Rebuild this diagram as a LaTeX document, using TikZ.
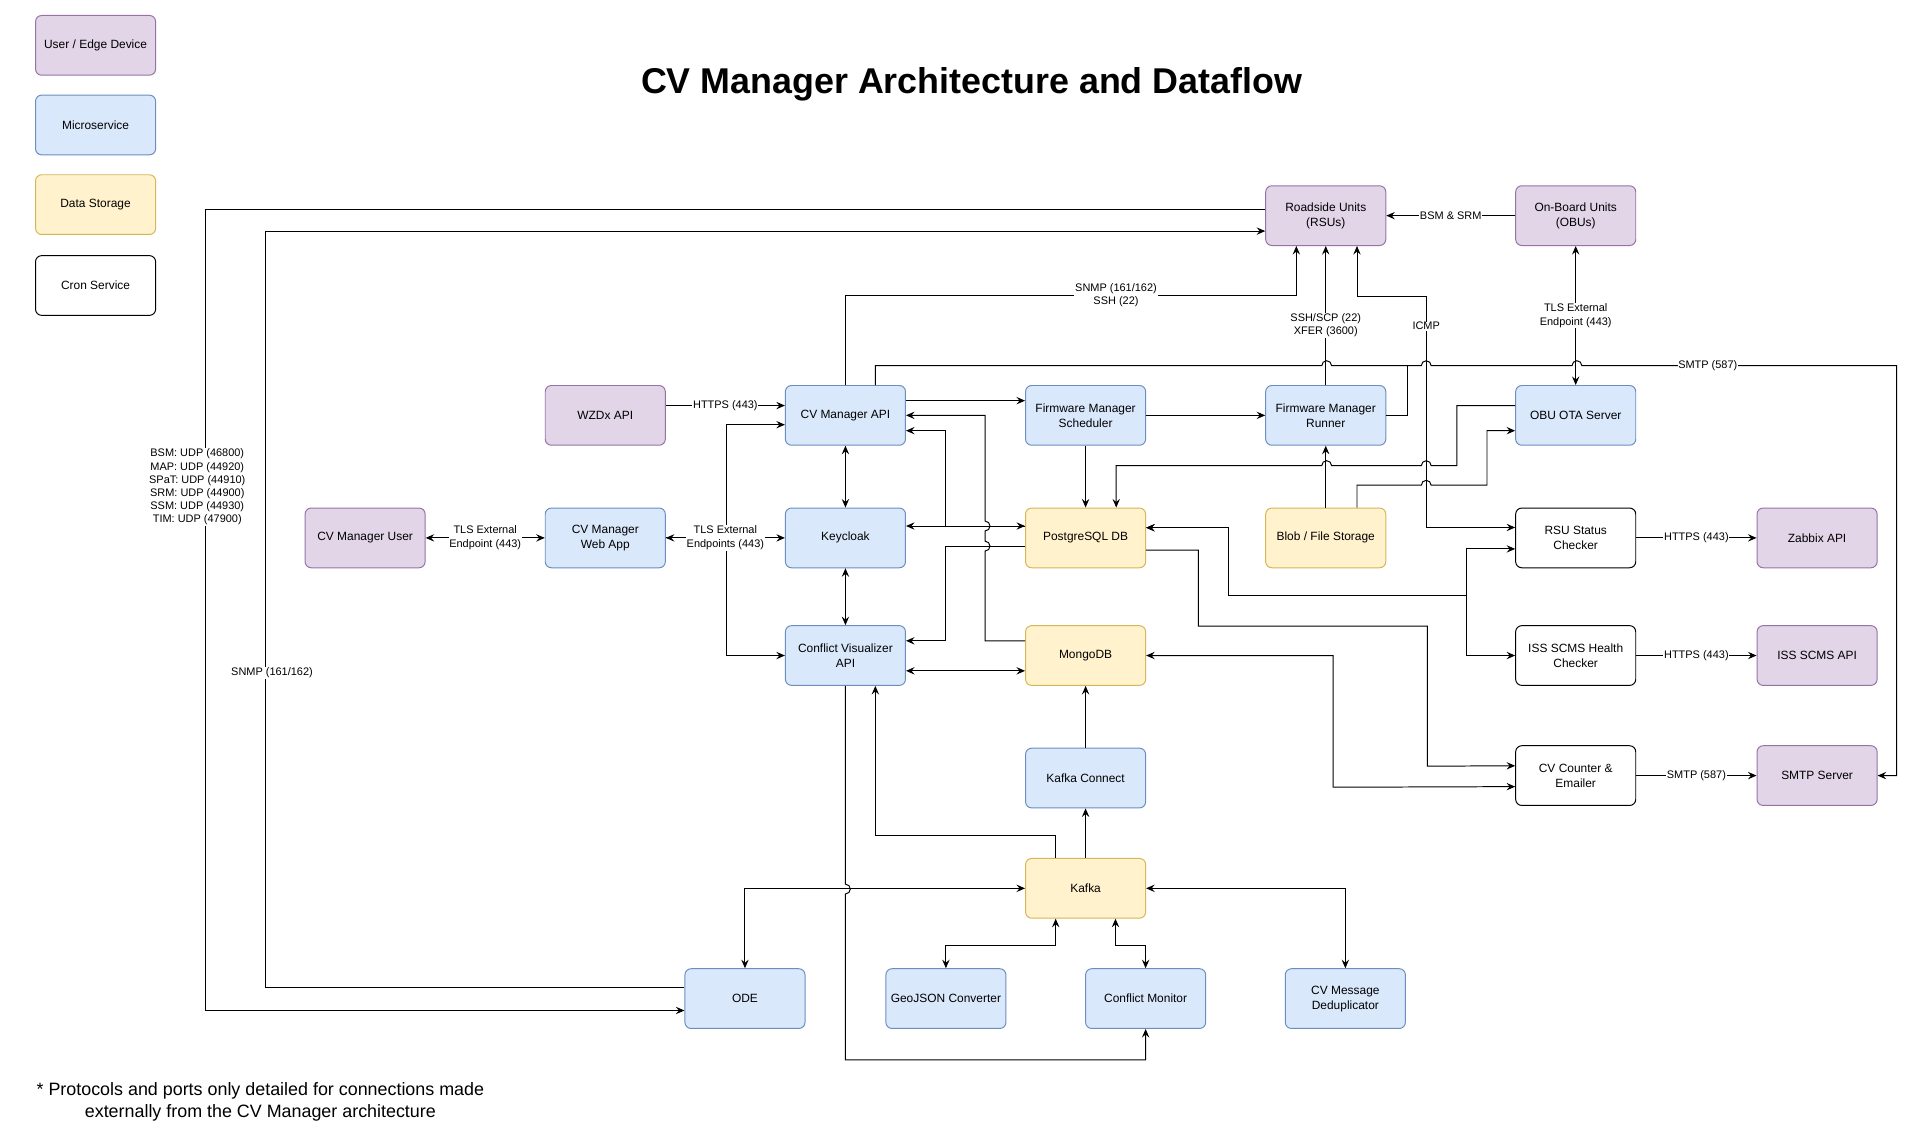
\documentclass[tikz,border=0pt]{standalone}
\usepackage{fontspec}
\setmainfont{Liberation Sans}
\usetikzlibrary{arrows.meta}

\definecolor{usrfill}{HTML}{E1D5E7}
\definecolor{usrline}{HTML}{9673A6}
\definecolor{svcfill}{HTML}{DAE8FC}
\definecolor{svcline}{HTML}{6C8EBF}
\definecolor{dbfill}{HTML}{FFF2CC}
\definecolor{dbline}{HTML}{D6B656}

\begin{document}
\begin{tikzpicture}
	[x=1pt,y=-1pt,
	box/.style={rectangle,rounded corners=5pt,minimum width=98pt,minimum height=48.75pt,inner sep=1pt,align=center,line width=0.8pt,font=\fontsize{9.75}{12.2}\selectfont},
	usr/.style={box,draw=usrline,fill=usrfill},
	svc/.style={box,draw=svcline,fill=svcfill},
	store/.style={box,draw=dbline,fill=dbfill},
	cron/.style={box,draw=black,fill=white},
	lbl/.style={fill=white,inner sep=0.6pt,align=center,font=\fontsize{8.94}{11.2}\selectfont},
	edge/.style={line width=0.8pt,>={Stealth[length=7pt,width=6pt,inset=2.5pt]}}]
	\useasboundingbox (0,0) rectangle (1567,931.3);

	\node[usr] (leguser) at (78,37) {User / Edge Device};
	\node[svc] (legsvc) at (78,102) {Microservice};
	\node[store] (legdb) at (78,167) {Data Storage};
	\node[cron] (legcron) at (78,233) {Cron Service};
	\node[font=\bfseries\fontsize{29.25}{35}\selectfont] (title) at (793,68.5) {CV Manager Architecture and Dataflow};

	\node[usr] (rsu) at (1082,176) {Roadside Units\\(RSUs)};
	\node[usr] (obu) at (1286,176) {On-Board Units\\(OBUs)};
	\node[usr] (wzdx) at (494,339) {WZDx API};
	\node[svc] (cvm) at (690,339) {CV Manager API};
	\node[svc] (fms) at (886,339) {Firmware Manager\\Scheduler};
	\node[svc] (fmr) at (1082,339) {Firmware Manager\\Runner};
	\node[svc] (ota) at (1286,339) {OBU OTA Server};
	\node[usr] (cvuser) at (298,439) {CV Manager User};
	\node[svc] (webapp) at (494,439) {CV Manager\\Web App};
	\node[svc] (keycloak) at (690,439) {Keycloak};
	\node[store] (psql) at (886,439) {PostgreSQL DB};
	\node[store] (blob) at (1082,439) {Blob / File Storage};
	\node[cron] (rsuchk) at (1286,439) {RSU Status\\Checker};
	\node[usr] (zabbix) at (1483,439) {Zabbix API};
	\node[svc] (cvapi) at (690,535) {Conflict Visualizer\\API};
	\node[store] (mongo) at (886,535) {MongoDB};
	\node[cron] (isschk) at (1286,535) {ISS SCMS Health\\Checker};
	\node[usr] (issapi) at (1483,535) {ISS SCMS API};
	\node[svc] (kconn) at (886,635) {Kafka Connect};
	\node[cron] (cvcount) at (1286,633) {CV Counter \&\\Emailer};
	\node[usr] (smtp) at (1483,633) {SMTP Server};
	\node[store] (kafka) at (886,725) {Kafka};
	\node[svc] (ode) at (608,815) {ODE};
	\node[svc] (geojson) at (772,815) {GeoJSON Converter};
	\node[svc] (cm) at (935,815) {Conflict Monitor};
	\node[svc] (dedup) at (1098,815) {CV Message\\Deduplicator};
	\coordinate (smtpjoin) at (1148.4,298.4);

	% straight links
	\foreach \from/\to in {fms/fmr,fms/psql,blob/fmr,kafka/kconn,kconn/mongo}
		\draw[edge,->] (\from) -- (\to);
	\foreach \from/\to in {cvm/keycloak,keycloak/cvapi}
		\draw[edge,<->] (\from) -- (\to);
	\foreach \from/\to/\txt in {rsuchk/zabbix/HTTPS (443),isschk/issapi/HTTPS (443),cvcount/smtp/SMTP (587),obu/rsu/BSM \& SRM}
		\draw[edge,->] (\from) -- node[lbl]{\txt} (\to);

	% web app and external endpoints
	\draw[edge,->] (webapp.east) -- (593,439) |- ([yshift=-7.6]cvm.west);
	\draw[edge,->] (webapp.east) -- (593,439) |- (cvapi.west);
	\draw[edge,<->] (webapp) -- node[lbl]{TLS External\\Endpoints (443)} (keycloak);
	\draw[edge,<->] (cvuser) -- node[lbl]{TLS External\\Endpoint (443)} (webapp);
	\draw[edge,->] ([yshift=8]wzdx.east) -- node[lbl]{HTTPS (443)} ([yshift=8]cvm.west);
	\draw[edge,->] ([yshift=12]cvm.east) -- ([yshift=12]fms.west);

	% roadside side
	\draw[edge,->] (cvm.north) |- node[lbl,pos=0.8]{SNMP (161/162)\\SSH (22)} (1058,241) -- ([xshift=-24]rsu.south);
	\draw[edge,->] (fmr) -- node[lbl,pos=0.43]{SSH/SCP (22)\\XFER (3600)} (rsu);
	\draw[edge,<->] ([xshift=25.5]rsu.south) |- (1164,241.6) -- node[lbl,pos=0.13]{ICMP} (1164,430.5) -- ([yshift=8.5]rsuchk.west);
	\draw[edge,->] ([xshift=24.5]cvm.north) |- (1078.75,298.4) arc[start angle=180,end angle=0,radius=4pt]
		-- (1160,298.4) arc[start angle=180,end angle=0,radius=4pt]
		-- (1283,298.4) arc[start angle=180,end angle=0,radius=4pt]
		-- node[lbl,pos=0.4]{SMTP (587)} (1548,298.4) |- (smtp.east);
	\draw[edge] (fmr.east) -| (smtpjoin);
	\draw[edge,<->] (obu) -- node[lbl]{TLS External\\Endpoint (443)} (ota);
	\draw[edge,->] ([yshift=8]ota.west) -| (1189,380) -- (1168,380) arc[start angle=0,end angle=180,radius=4pt]
		-- (1086.75,380) arc[start angle=0,end angle=180,radius=4pt] -- (911,380) -- ([xshift=25]psql.north);
	\draw[edge,->] ([xshift=25.5]blob.north) |- (1160,396) arc[start angle=180,end angle=0,radius=4pt] -| (1213.6,351.5) -- ([yshift=-12.5]ota.west);

	% databases
	\draw[edge,<->] ([yshift=9.7]keycloak.east) -- ([yshift=9.7]psql.west);
	\draw[edge,->] ([yshift=9.7]psql.west) -| (772,351.5) -- ([yshift=-12.5]cvm.east);
	\draw[edge,->] ([yshift=-6.7]psql.west) -| (772,523) -- ([yshift=12]cvapi.east);
	\draw[edge,->] ([yshift=12]mongo.west) -| (804,449.7) arc[start angle=-90,end angle=90,radius=4pt]
		-- (804,433.3) arc[start angle=-90,end angle=90,radius=4pt] |- (cvm.east);
	\draw[edge,<->] ([yshift=-12.5]cvapi.east) -- ([yshift=-12.5]mongo.west);
	\draw[edge,<->] ([yshift=8.3]psql.east) -| (1002.5,486.2) -| (1197,448) -- ([yshift=-9]rsuchk.west);
	\draw[edge,<->] ([yshift=8.3]psql.east) -| (1002.5,486.2) -| (1197,535) -- (isschk.west);
	\draw[edge,->] ([yshift=-10]psql.east) -| (978,511) -| (1165,625.3) -- ([yshift=8]cvcount.west);
	\draw[edge,<->] (mongo.east) -| (1088,642.5) -- ([yshift=-9]cvcount.west);

	% kafka
	\draw[edge,->] ([xshift=-24.4]kafka.north) |- (714.4,682) -- ([xshift=24.4]cvapi.south);
	\draw[edge,->] (cvapi.south) -- (690,721.6) arc[start angle=90,end angle=-90,radius=4pt] |- (935,865) -- (cm.south);
	\draw[edge,<->] (kafka.west) -| (ode.north);
	\draw[edge,<->] (kafka.east) -| (dedup.north);
	\draw[edge,<->] ([xshift=-24.4]kafka.south) -- ++(0,21.5) -| (geojson.north);
	\draw[edge,<->] ([xshift=24.4]kafka.south) -- ++(0,21.5) -| (cm.north);

	% ode and roadside units
	\draw[edge,->] ([yshift=5]rsu.west) -| (168,824.7) -- ([yshift=-9.7]ode.west);
	\draw[edge,->] ([yshift=9.2]ode.west) -| (217,188.6) -- ([yshift=-12.6]rsu.west);
	\node[lbl,font=\fontsize{8.94}{10.8}\selectfont] (udplbl) at (161,397.5) {BSM: UDP (46800)\\MAP: UDP (44920)\\SPaT: UDP (44910)\\SRM: UDP (44900)\\SSM: UDP (44930)\\TIM: UDP (47900)};
	\node[lbl] (snmplbl) at (222,549) {SNMP (161/162)};

	\node[align=center,font=\fontsize{14.6}{18}\selectfont] (note) at (212.5,899) {* Protocols and ports only detailed for connections made\\externally from the CV Manager architecture};
\end{tikzpicture}
\end{document}
